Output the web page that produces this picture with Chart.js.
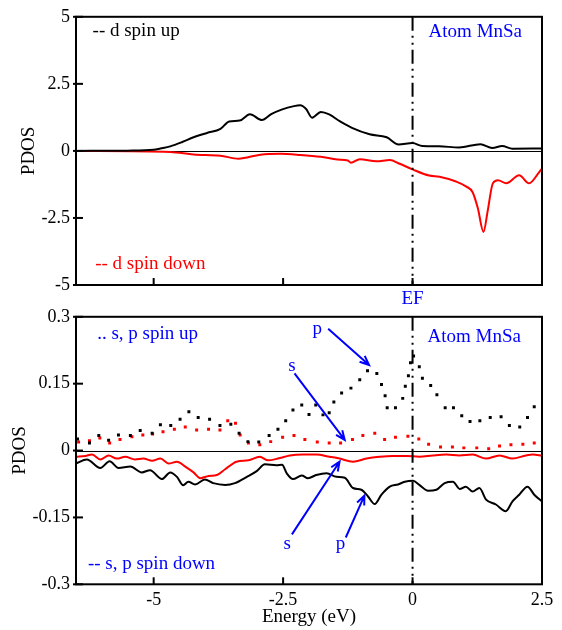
<!DOCTYPE html>
<html>
<head>
<meta charset="utf-8">
<script src="https://cdn.jsdelivr.net/npm/chart.js@4/dist/chart.umd.min.js"></script>
<style>
  html, body { margin: 0; padding: 0; background: #fff; }
  #wrap { position: relative; width: 562px; height: 630px; }
  canvas { position: absolute; left: 0; }
  #top { top: 0; }
  #bot { top: 300px; }
</style>
</head>
<body>
<div id="wrap">
  <canvas id="top" width="562" height="310"></canvas>
  <canvas id="bot" width="562" height="330"></canvas>
</div>
<script>
// Axis ticks
const energyTicks = [-5, -2.5, 0, 2.5];
const dTicks = [-5, -2.5, 0, 2.5, 5];
const spTicks = [-0.3, -0.15, 0, 0.15, 0.3];

// d states, spin up (eV, states/eV)
const dUpE = [-6.50, -5.50, -5.00, -4.87, -4.68, -4.45, -4.23, -3.97, -3.71, -3.54, -3.34, -3.14, -2.91, -2.73, -2.53, -2.29, -2.17, -2.06, -1.94, -1.77, -1.61, -1.40, -1.17, -0.83, -0.50, -0.27, 0.00, 0.19, 0.51, 0.90, 1.31, 1.54, 1.73, 1.93, 2.50];
const dUpV = [0.00, 0.01, 0.04, 0.09, 0.17, 0.33, 0.51, 0.67, 0.82, 1.10, 1.13, 1.37, 1.15, 1.37, 1.54, 1.67, 1.70, 1.57, 1.24, 1.45, 1.36, 1.10, 0.86, 0.62, 0.51, 0.24, 0.29, 0.18, 0.17, 0.13, 0.25, 0.11, 0.18, 0.08, 0.09];

// d states, spin down
const dDownE = [-6.50, -4.68, -4.23, -3.71, -3.36, -2.94, -2.55, -2.17, -1.77, -1.45, -1.25, -1.19, -1.02, -0.70, -0.44, -0.25, 0.00, 0.32, 0.52, 0.84, 1.04, 1.16, 1.26, 1.37, 1.45, 1.55, 1.65, 1.81, 2.06, 2.25, 2.45, 2.50];
const dDownV = [0.00, -0.04, -0.13, -0.18, -0.29, -0.14, -0.11, -0.15, -0.22, -0.32, -0.36, -0.44, -0.31, -0.39, -0.34, -0.48, -0.69, -0.92, -0.96, -1.14, -1.33, -1.54, -2.13, -3.02, -2.25, -1.21, -1.09, -1.21, -0.91, -1.21, -0.78, -0.66];

// p states, spin up (dotted)
const pUpE = [-6.47, -6.24, -6.06, -5.87, -5.68, -5.45, -5.26, -5.03, -4.87, -4.67, -4.49, -4.32, -4.14, -3.92, -3.72, -3.51, -3.35, -3.18, -2.97, -2.77, -2.60, -2.45, -2.31, -2.14, -2.00, -1.87, -1.73, -1.61, -1.52, -1.37, -1.19, -1.02, -0.87, -0.69, -0.60, -0.53, -0.49, -0.33, -0.19, -0.14, -0.08, -0.04, 0.02, 0.13, 0.19, 0.35, 0.47, 0.63, 0.79, 0.95, 1.11, 1.30, 1.50, 1.71, 1.87, 2.07, 2.22, 2.35];
const pUpV = [0.026, 0.017, 0.034, 0.023, 0.035, 0.034, 0.045, 0.039, 0.058, 0.056, 0.070, 0.087, 0.074, 0.070, 0.056, 0.059, 0.039, 0.020, 0.019, 0.034, 0.048, 0.067, 0.091, 0.102, 0.081, 0.102, 0.080, 0.085, 0.109, 0.129, 0.140, 0.159, 0.179, 0.173, 0.148, 0.123, 0.096, 0.096, 0.117, 0.144, 0.168, 0.197, 0.212, 0.188, 0.162, 0.146, 0.125, 0.096, 0.096, 0.078, 0.065, 0.067, 0.074, 0.076, 0.056, 0.053, 0.074, 0.098];

// s states, spin up (dotted)
const sUpE = [-6.45, -6.24, -6.04, -5.85, -5.65, -5.42, -5.21, -5.02, -4.82, -4.60, -4.39, -4.17, -3.94, -3.72, -3.57, -3.42, -3.33, -3.17, -2.95, -2.74, -2.51, -2.29, -2.08, -1.84, -1.61, -1.39, -1.16, -0.96, -0.73, -0.54, -0.33, -0.09, 0.12, 0.31, 0.54, 0.77, 0.99, 1.24, 1.47, 1.68, 1.90, 2.13, 2.35];
const sUpV = [0.019, 0.022, 0.028, 0.017, 0.025, 0.031, 0.035, 0.037, 0.042, 0.048, 0.053, 0.046, 0.048, 0.046, 0.067, 0.061, 0.035, 0.017, 0.013, 0.020, 0.030, 0.034, 0.025, 0.019, 0.017, 0.017, 0.025, 0.034, 0.039, 0.025, 0.030, 0.032, 0.026, 0.014, 0.008, 0.008, 0.006, 0.006, 0.004, 0.010, 0.013, 0.014, 0.017];

// s states, spin down
const sDownE = [-6.50, -6.32, -6.19, -6.03, -5.87, -5.71, -5.55, -5.36, -5.20, -5.03, -4.87, -4.71, -4.55, -4.39, -4.23, -4.10, -3.94, -3.78, -3.62, -3.40, -3.17, -2.95, -2.79, -2.60, -2.37, -2.11, -1.86, -1.60, -1.41, -1.15, -0.89, -0.64, -0.38, -0.12, 0.13, 0.39, 0.65, 0.90, 1.16, 1.42, 1.68, 1.93, 2.19, 2.32, 2.50];
const sDownV = [-0.014, -0.012, -0.009, -0.020, -0.011, -0.018, -0.014, -0.020, -0.018, -0.023, -0.018, -0.029, -0.025, -0.036, -0.049, -0.062, -0.057, -0.055, -0.042, -0.025, -0.022, -0.014, -0.022, -0.018, -0.011, -0.009, -0.009, -0.014, -0.018, -0.025, -0.018, -0.014, -0.012, -0.012, -0.014, -0.011, -0.009, -0.011, -0.009, -0.018, -0.011, -0.018, -0.011, -0.009, -0.012];

// p states, spin down
const pDownE = [-6.50, -6.29, -6.03, -5.85, -5.68, -5.45, -5.23, -5.07, -4.84, -4.68, -4.55, -4.43, -4.33, -4.20, -4.01, -3.85, -3.62, -3.43, -3.20, -3.01, -2.85, -2.63, -2.52, -2.43, -2.31, -2.14, -2.02, -1.86, -1.66, -1.47, -1.31, -1.15, -0.99, -0.86, -0.73, -0.60, -0.44, -0.28, -0.15, 0.01, 0.13, 0.30, 0.46, 0.62, 0.78, 0.91, 1.03, 1.16, 1.29, 1.42, 1.61, 1.80, 1.93, 2.06, 2.22, 2.35, 2.50];
const pDownV = [-0.029, -0.020, -0.039, -0.024, -0.039, -0.036, -0.049, -0.044, -0.064, -0.049, -0.059, -0.078, -0.070, -0.076, -0.065, -0.073, -0.077, -0.073, -0.059, -0.046, -0.031, -0.033, -0.032, -0.051, -0.064, -0.056, -0.062, -0.055, -0.051, -0.059, -0.061, -0.084, -0.088, -0.103, -0.120, -0.099, -0.081, -0.076, -0.070, -0.068, -0.077, -0.090, -0.088, -0.073, -0.070, -0.086, -0.081, -0.092, -0.084, -0.110, -0.121, -0.136, -0.114, -0.099, -0.081, -0.099, -0.114];

// Text placed in data units of each panel (x = energy, y = PDOS baseline)
const BLUE = '#0000ff', RED = '#ff0000', BLACK = '#000000';
const topNotes = [
  { x: -6.18, y: 4.30, text: '-- d spin up', color: BLACK, align: 'left' },
  { x: 0.31, y: 4.25, text: 'Atom MnSa', color: BLUE, align: 'left' },
  { x: -6.13, y: -4.39, text: '-- d spin down', color: RED, align: 'left' },
  { x: 0, y: -5.70, text: 'EF', color: BLUE, align: 'center' }
];
const botNotes = [
  { x: -6.09, y: 0.251, text: '.. s, p spin up', color: BLUE, align: 'left' },
  { x: 0.29, y: 0.243, text: 'Atom MnSa', color: BLUE, align: 'left' },
  { x: -6.27, y: -0.265, text: '-- s, p spin down', color: BLUE, align: 'left' },
  { x: -1.84, y: 0.262, text: 'p', color: BLUE, align: 'center' },
  { x: -2.33, y: 0.178, text: 's', color: BLUE, align: 'center' },
  { x: -2.42, y: -0.220, text: 's', color: BLUE, align: 'center' },
  { x: -1.39, y: -0.220, text: 'p', color: BLUE, align: 'center' }
];
const botArrows = [
  { x0: -1.63, y0: 0.273, x1: -0.84, y1: 0.192 },
  { x0: -2.28, y0: 0.173, x1: -1.31, y1: 0.024 },
  { x0: -2.33, y0: -0.188, x1: -1.41, y1: -0.025 },
  { x0: -1.29, y0: -0.195, x1: -0.93, y1: -0.101 }
];

Chart.defaults.font.family = '"Liberation Serif", "DejaVu Serif", serif';
const tickFont = { family: '"Liberation Serif", serif', size: 18 };
const titleFont = { family: '"Liberation Serif", serif', size: 19 };
const noteFont = '19px "Liberation Serif", serif';

const pts = (xs, ys) => xs.map((x, i) => ({ x, y: ys[i] }));
const fixTicks = vals => scale => { scale.ticks = vals.map(v => ({ value: v })); };

// Frame, zero line, Fermi level, inward ticks, labels and arrows
function decor(notes, arrows) {
  return {
    id: 'decor',
    beforeDatasetsDraw(chart) {
      const { ctx, chartArea: a, scales: { y } } = chart;
      const y0 = Math.round(y.getPixelForValue(0)) + 0.5;
      ctx.save();
      ctx.strokeStyle = '#000';
      ctx.lineWidth = 1;
      ctx.beginPath();
      ctx.moveTo(a.left, y0);
      ctx.lineTo(a.right, y0);
      ctx.stroke();
      ctx.restore();
    },
    afterDatasetsDraw(chart) {
      const { ctx, chartArea: a, scales: { x, y } } = chart;
      ctx.save();
      ctx.strokeStyle = '#000';
      ctx.lineWidth = 2;

      // Fermi level
      const xf = x.getPixelForValue(0);
      ctx.setLineDash([14, 5, 2, 5, 2, 5]);
      ctx.beginPath();
      ctx.moveTo(xf, a.top);
      ctx.lineTo(xf, a.bottom);
      ctx.stroke();
      ctx.setLineDash([]);

      // inward tick marks
      x.ticks.forEach(t => {
        const px = x.getPixelForValue(t.value);
        ctx.beginPath();
        ctx.moveTo(px, a.bottom);
        ctx.lineTo(px, a.bottom - 7);
        ctx.stroke();
      });
      y.ticks.forEach(t => {
        const py = y.getPixelForValue(t.value);
        ctx.beginPath();
        ctx.moveTo(a.left - 3, py);
        ctx.lineTo(a.left + 7, py);
        ctx.stroke();
      });

      // frame
      ctx.strokeRect(a.left, a.top, a.right - a.left, a.bottom - a.top);

      // arrows
      ctx.strokeStyle = BLUE;
      ctx.lineWidth = 2;
      arrows.forEach(r => {
        const x0 = x.getPixelForValue(r.x0), y0 = y.getPixelForValue(r.y0);
        const x1 = x.getPixelForValue(r.x1), y1 = y.getPixelForValue(r.y1);
        const ang = Math.atan2(y1 - y0, x1 - x0);
        const h = 10, spread = 0.4;
        ctx.beginPath();
        ctx.moveTo(x0, y0);
        ctx.lineTo(x1, y1);
        ctx.moveTo(x1 - h * Math.cos(ang - spread), y1 - h * Math.sin(ang - spread));
        ctx.lineTo(x1, y1);
        ctx.lineTo(x1 - h * Math.cos(ang + spread), y1 - h * Math.sin(ang + spread));
        ctx.stroke();
      });

      // labels
      ctx.font = noteFont;
      ctx.textBaseline = 'alphabetic';
      notes.forEach(n => {
        ctx.fillStyle = n.color;
        ctx.textAlign = n.align;
        ctx.fillText(n.text, x.getPixelForValue(n.x), y.getPixelForValue(n.y));
      });
      ctx.restore();
    }
  };
}

const lineSet = (label, xs, ys, color) => ({
  label, data: pts(xs, ys), borderColor: color, backgroundColor: color,
  borderWidth: 2, pointRadius: 0, cubicInterpolationMode: 'monotone', fill: false
});
const dotSet = (label, xs, ys, color) => ({
  label, data: pts(xs, ys), showLine: false, pointStyle: 'rect', pointRadius: 2.1,
  pointBackgroundColor: color, pointBorderColor: color, pointBorderWidth: 0
});

function panelOptions(cfg) {
  return {
    responsive: false,
    animation: false,
    events: [],
    layout: { padding: { left: 0, right: 20, top: cfg.padTop, bottom: 0 } },
    plugins: { legend: { display: false }, tooltip: { enabled: false } },
    scales: {
      x: {
        type: 'linear', min: -6.5, max: 2.5,
        afterBuildTicks: fixTicks(energyTicks),
        ticks: { display: cfg.showX, font: tickFont, color: '#000', padding: 5, autoSkip: false, maxRotation: 0,
                 callback: v => String(v) },
        grid: { display: false, drawTicks: false },
        border: { display: false },
        title: cfg.showX ? { display: true, text: 'Energy (eV)', font: titleFont, color: '#000', padding: { top: 0, bottom: 1.6 } }
                         : { display: false },
        afterFit: s => { s.height = cfg.xHeight; }
      },
      y: {
        type: 'linear', min: cfg.yMin, max: cfg.yMax,
        afterBuildTicks: fixTicks(cfg.yTicks),
        ticks: { font: tickFont, color: '#000', padding: 6, autoSkip: false, callback: v => String(v) },
        grid: { display: false, drawTicks: false },
        border: { display: false },
        title: { display: true, text: 'PDOS', font: titleFont, color: '#000', padding: { top: cfg.titlePad, bottom: 0 } },
        afterFit: s => { s.width = 76; }
      }
    }
  };
}

new Chart(document.getElementById('top'), {
  type: 'line',
  data: {
    datasets: [
      lineSet('d spin up', dUpE, dUpV, BLACK),
      lineSet('d spin down', dDownE, dDownV, RED)
    ]
  },
  options: panelOptions({ padTop: 13, xHeight: 25, showX: false, yMin: -5, yMax: 5, yTicks: dTicks, titlePad: 17.6 }),
  plugins: [decor(topNotes, [])]
});

new Chart(document.getElementById('bot'), {
  type: 'line',
  data: {
    datasets: [
      dotSet('p spin up', pUpE, pUpV, BLACK),
      dotSet('s spin up', sUpE, sUpV, RED),
      lineSet('s spin down', sDownE, sDownV, RED),
      lineSet('p spin down', pDownE, pDownV, BLACK)
    ]
  },
  options: panelOptions({ padTop: 12.7, xHeight: 45.7, showX: true, yMin: -0.3, yMax: 0.3, yTicks: spTicks, titlePad: 8.6 }),
  plugins: [decor(botNotes, botArrows)]
});
</script>
</body>
</html>
